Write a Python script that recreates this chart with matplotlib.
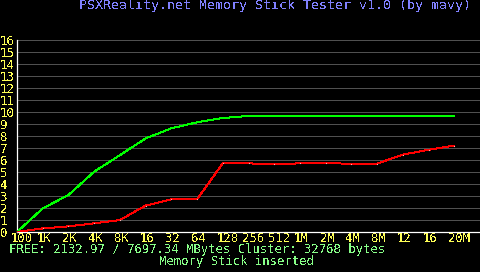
import matplotlib
matplotlib.use('Agg')
import matplotlib.pyplot as plt
import matplotlib.transforms as mtransforms

# block sizes tested and transfer speeds
sizes = ['100', '1K', '2K', '4K', '8K', '16', '32', '64', '128', '256', '512',
         '1M', '2M', '4M', '8M', '12', '16', '20M']
read_speed = [0, 1.97, 3.08, 5.03, 6.4, 7.8, 8.64, 9.14, 9.5, 9.67, 9.67,
              9.67, 9.67, 9.67, 9.67, 9.67, 9.67, 9.67]
write_speed = [0, 0.3, 0.47, 0.72, 1.0, 2.2, 2.72, 2.72, 5.72, 5.72, 5.65,
               5.72, 5.72, 5.7, 5.7, 6.45, 6.85, 7.2]
y_ticks = list(range(17))

title = 'PSXReality.net Memory Stick Tester v1.0 (by mavy)'
info = 'FREE: 2132.97 / 7697.34 MBytes Cluster: 32768 bytes'
status = 'Memory Stick inserted'

plt.rcParams['font.family'] = 'DejaVu Sans Mono'
plt.rcParams['text.antialiased'] = False

W, H = 480, 272
fig = plt.figure(figsize=(W / 100, H / 100), dpi=100, facecolor='black')
ax = fig.add_axes([17 / W, 40 / H, 1 - 17 / W, 192 / H], facecolor='black')

x = list(range(len(sizes)))
ax.plot(x, read_speed, color='#00ff00', lw=0.72, antialiased=False, zorder=3)
ax.plot(x, write_speed, color='#ff0000', lw=0.72, antialiased=False, zorder=3,
        marker='s', markersize=0.8, markerfacecolor='#ffb0b0', markeredgewidth=0)

ax.set_xlim(0, 18)
ax.set_ylim(0, 16)

ax.set_yticks(y_ticks)
ax.set_yticklabels([str(v) for v in y_ticks])
ax.set_xticks(x)
ax.set_xticklabels(sizes)
ax.grid(axis='y', color='#505050', lw=0.72, antialiased=False)
ax.set_axisbelow(True)

ax.tick_params(axis='y', length=0, pad=12.24, labelcolor='#ffff55', labelsize=9)
ax.tick_params(axis='x', length=0, pad=0, labelcolor='#ffff55', labelsize=8.8)
for lab in ax.get_yticklabels():
    lab.set_horizontalalignment('left')
shift = mtransforms.ScaledTranslation(-6 / 100, 0, fig.dpi_scale_trans)
for lab in ax.get_xticklabels():
    lab.set_horizontalalignment('left')
    lab.set_transform(lab.get_transform() + shift)

for side in ['top', 'right']:
    ax.spines[side].set_visible(False)
for side in ['left', 'bottom']:
    ax.spines[side].set_color('white')
    ax.spines[side].set_linewidth(0.9)

fig.text(79 / W, 1 - 9.5 / H, title, color='#8080ff', fontsize=9.5, va='baseline', ha='left')
fig.text(9 / W, 1 - 253.5 / H, info, color='#88ff88', fontsize=8.8, va='baseline', ha='left')
fig.text(159 / W, 1 - 265 / H, status, color='#88ff88', fontsize=8.8, va='baseline', ha='left')

fig.savefig('out.png', dpi=100, facecolor='black')
